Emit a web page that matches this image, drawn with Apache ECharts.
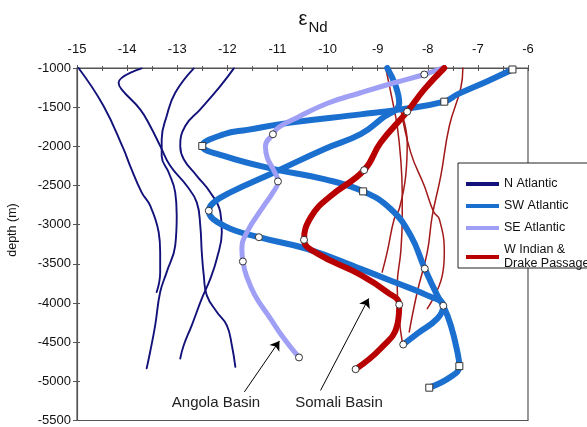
<!DOCTYPE html>
<html><head><meta charset="utf-8">
<script src="https://cdn.jsdelivr.net/npm/echarts@6/dist/echarts.min.js"></script>
<style>html,body{margin:0;padding:0;background:#fff}#c{width:587px;height:427px}</style>
</head><body><div id="c"></div>
<script>
// ---- data: [epsilon Nd, depth (m)] ----
const nAtl1 = [[-14.97,-1000],[-14.47,-1485],[-14.07,-2037],[-13.94,-2249],[-13.71,-2588],[-13.54,-2758],[-13.37,-3097],[-13.34,-3351],[-13.34,-3606],[-13.41,-3860]];
const nAtl2 = [[-13.71,-1005],[-14.17,-1188],[-14.11,-1273],[-13.74,-1528],[-13.54,-1740],[-13.34,-1995],[-13.14,-2249],[-12.81,-2504],[-12.61,-2715],[-12.54,-3012],[-12.51,-3351],[-12.47,-3648],[-12.41,-3903],[-12.21,-4115],[-12.01,-4285],[-11.91,-4539],[-11.84,-4814]];
const nAtl3 = [[-12.67,-1005],[-13.04,-1316],[-13.21,-1613],[-13.31,-1910],[-13.31,-2122],[-13.17,-2334],[-13.04,-2588],[-13.01,-2885],[-13.04,-3267],[-13.21,-3606],[-13.34,-3860],[-13.44,-4285],[-13.54,-4623],[-13.61,-4835]];
const nAtl4 = [[-11.87,-1005],[-12.14,-1231],[-12.54,-1528],[-12.84,-1740],[-12.94,-1995],[-12.87,-2164],[-12.61,-2376],[-12.34,-2588],[-12.14,-2842],[-12.11,-3097],[-12.21,-3436],[-12.34,-3691],[-12.51,-3945],[-12.71,-4285],[-12.87,-4539],[-12.94,-4708]];

const swAtl1 = [[-6.31,-1019],[-6.81,-1168],[-7.41,-1337],[-7.67,-1430],[-8.54,-1528],[-9.34,-1592],[-10.74,-1697],[-11.6,-1790],[-12.07,-1846],[-12.5,-1995],[-12.07,-2122],[-11.07,-2291],[-10.07,-2419],[-9.29,-2575],[-8.74,-2800],[-8.34,-3140],[-8.06,-3561],[-7.81,-3903],[-7.69,-4035],[-7.54,-4285],[-7.41,-4623],[-7.37,-4806],[-7.54,-4942],[-7.97,-5081]];
const swAtl2 = [[-8.81,-1000],[-8.64,-1231],[-8.57,-1443],[-8.94,-1655],[-9.34,-1845],[-10.07,-2037],[-11.07,-2334],[-11.94,-2588],[-12.27,-2715],[-12.37,-2822],[-12.07,-3012],[-11.37,-3160],[-10.41,-3309],[-9.34,-3564],[-8.67,-3733],[-8.01,-3903],[-7.69,-4035],[-7.81,-4200],[-8.21,-4390],[-8.49,-4530]];
const swSquares = [[-6.31,-1019],[-7.67,-1430],[-12.5,-1995],[-9.29,-2575],[-7.37,-4806],[-7.97,-5081]];
const swCircles = [[-12.37,-2822],[-11.37,-3160],[-8.06,-3561],[-7.69,-4035],[-8.49,-4530]];

const seAtl = [[-7.71,-1000],[-8.07,-1083],[-8.67,-1188],[-9.34,-1316],[-10.0,-1450],[-10.61,-1634],[-10.98,-1760],[-11.09,-1846],[-11.24,-1995],[-11.2,-2150],[-11.08,-2300],[-10.99,-2448],[-11.1,-2600],[-11.27,-2758],[-11.61,-3097],[-11.71,-3309],[-11.69,-3470],[-11.62,-3650],[-11.45,-3900],[-11.14,-4200],[-10.87,-4454],[-10.57,-4695]];
const seCircles = [[-8.07,-1083],[-11.09,-1846],[-10.99,-2448],[-11.69,-3470],[-10.57,-4695]];

const wInd = [[-7.67,-1000],[-8.07,-1273],[-8.41,-1557],[-8.94,-1952],[-9.27,-2304],[-9.95,-2640],[-10.33,-2900],[-10.47,-3194],[-10.2,-3370],[-9.34,-3640],[-8.81,-3860],[-8.57,-4021],[-8.61,-4285],[-8.94,-4581],[-9.44,-4845]];
const wIndCircles = [[-8.41,-1557],[-9.27,-2304],[-10.47,-3194],[-8.57,-4021],[-9.44,-4845]];
const drake1 = [[-8.84,-1000],[-8.71,-1401],[-8.61,-1740],[-8.54,-2164],[-8.51,-2588],[-8.51,-2927],[-8.54,-3351],[-8.61,-3775],[-8.57,-4200],[-8.51,-4496]];
const drake2 = [[-7.3,-1000],[-7.34,-1252],[-7.57,-1740],[-7.74,-2376],[-7.91,-2885],[-8.01,-3351],[-8.21,-3860],[-8.37,-4369]];
const drake3 = [[-8.55,-1480],[-8.34,-2080],[-8.07,-2504],[-7.88,-2840],[-7.77,-2927],[-7.67,-3351],[-7.71,-3648],[-8.01,-4072]];
const drake4 = [[-8.58,-1470],[-8.41,-1952],[-8.44,-2376],[-8.57,-2800],[-8.67,-2927],[-8.81,-3351],[-8.91,-3606]];

const legendNames = ['N Atlantic','SW Atlantic','SE Atlantic','W Indian &\nDrake Passage'];
const annotations = ['Angola Basin','Somali Basin'];
const arrowAngola = [[-11.66,-5135],[-10.96,-4484]];
const arrowSomali = [[-10.14,-5116],[-9.18,-3942]];

// ---- chart ----
const FONT = "'Liberation Sans', Arial, Helvetica, sans-serif";
const C_N = '#12127a', C_SW = '#1a6fcf', C_SE = '#9f9ff5', C_R = '#b80000', C_RT = '#a31818';

function line(name, data, color, width, z) {
  return { type:'line', name, data, smooth:0.45, symbol:'none', z,
    lineStyle:{ color, width, cap:'round', join:'round' }, itemStyle:{ color }, silent:true };
}
function marks(name, data, symbol) {
  return { type:'scatter', name, data, symbol, symbolSize:7, z:12, silent:true,
    itemStyle:{ color:'#fff', borderColor:'#333', borderWidth:1, opacity:1 } };
}

const series = [
  line(legendNames[0], nAtl1, C_N, 1.9, 3),
  line(legendNames[1], swAtl1, C_SW, 6, 5),
  line(legendNames[2], seAtl, C_SE, 5, 6),
  line(legendNames[3], wInd, C_R, 6, 7),
  line(legendNames[0], nAtl2, C_N, 1.9, 3),
  line(legendNames[0], nAtl3, C_N, 1.9, 3),
  line(legendNames[0], nAtl4, C_N, 1.9, 3),
  line(legendNames[1], swAtl2, C_SW, 6, 5),
  line(legendNames[3], drake1, C_RT, 1.5, 2),
  line(legendNames[3], drake2, C_RT, 1.5, 2),
  line(legendNames[3], drake3, C_RT, 1.5, 2),
  line(legendNames[3], drake4, C_RT, 1.5, 2),
  marks('m1', swSquares, 'rect'),
  marks('m2', swCircles, 'circle'),
  marks('m3', seCircles, 'circle'),
  marks('m4', wIndCircles, 'circle'),
  { type:'line', name:'arrows', data:[], z:8, silent:true,
    markLine:{ silent:true, symbol:['none','arrow'], symbolSize:9, animation:false,
      label:{show:false}, lineStyle:{ color:'#000', width:1, type:'solid' },
      data:[ [{coord:arrowAngola[0]},{coord:arrowAngola[1]}], [{coord:arrowSomali[0]},{coord:arrowSomali[1]}] ] } }
];

const axisCol = '#555';
const chart = echarts.init(document.getElementById('c'), null, {renderer:'canvas'});
chart.setOption({
  animation:false,
  backgroundColor:'#fff',
  textStyle:{ fontFamily: FONT },
  grid:{ left:77, top:68, right:59, bottom:5, show:true, borderColor:axisCol, borderWidth:1.2, backgroundColor:'transparent' },
  xAxis:[
    { type:'value', position:'top', min:-15, max:-6, interval:1,
      axisLine:{ show:true, lineStyle:{ color:axisCol, width:1.2 } },
      axisTick:{ show:true, length:3, lineStyle:{ color:axisCol } },
      minorTick:{ show:true, splitNumber:2, length:2, lineStyle:{ color:axisCol } },
      splitLine:{ show:false },
      axisLabel:{ margin:12, fontSize:13, color:'#111', fontFamily:FONT, formatter:v=>String(v) } },
    { type:'value', position:'top', min:-15, max:-6, interval:1,
      axisLine:{ show:false }, axisLabel:{ show:false }, splitLine:{ show:false },
      axisTick:{ show:true, inside:true, length:3, lineStyle:{ color:axisCol } },
      minorTick:{ show:true, splitNumber:2, length:3, lineStyle:{ color:axisCol } } }
  ],
  yAxis:[
    { type:'value', min:-5500, max:-1000, interval:500,
      axisLine:{ show:true, lineStyle:{ color:axisCol, width:1.2 } },
      axisTick:{ show:true, length:4, lineStyle:{ color:axisCol } },
      splitLine:{ show:false },
      axisLabel:{ margin:6, fontSize:13, color:'#111', fontFamily:FONT, formatter:v=>String(v) } },
    { type:'value', position:'left', min:-5500, max:-1000, interval:500,
      axisLine:{ show:false }, axisLabel:{ show:false }, splitLine:{ show:false },
      axisTick:{ show:true, inside:true, length:3, lineStyle:{ color:axisCol } } }
  ],
  legend:{ data:legendNames, orient:'vertical', left:461, top:172, itemWidth:33, itemHeight:4,
    itemGap:8, icon:'rect', z:20, selectedMode:false,
    textStyle:{ fontSize:12.5, color:'#111', fontFamily:FONT, lineHeight:14 } },
  graphic:[
    { type:'rect', z:10, silent:true, shape:{ x:458, y:163, width:140, height:105 },
      style:{ fill:'#fff', stroke:'#222', lineWidth:1 } },
    { type:'text', x:303, y:19, silent:true, style:{ text:'ε', font:'20px '+FONT, fill:'#111', align:'center', verticalAlign:'middle' } },
    { type:'text', x:318, y:28, silent:true, style:{ text:'Nd', font:'15px '+FONT, fill:'#111', align:'center', verticalAlign:'middle' } },
    { type:'text', x:13, y:230, rotation:Math.PI/2, silent:true, style:{ text:'depth (m)', font:'12.5px '+FONT, fill:'#111', align:'center', verticalAlign:'middle' } },
    { type:'text', x:216, y:403, silent:true, style:{ text:annotations[0], font:'15px '+FONT, fill:'#222', align:'center', verticalAlign:'middle' } },
    { type:'text', x:339, y:403, silent:true, style:{ text:annotations[1], font:'15px '+FONT, fill:'#222', align:'center', verticalAlign:'middle' } }
  ],
  series
});
</script></body></html>
